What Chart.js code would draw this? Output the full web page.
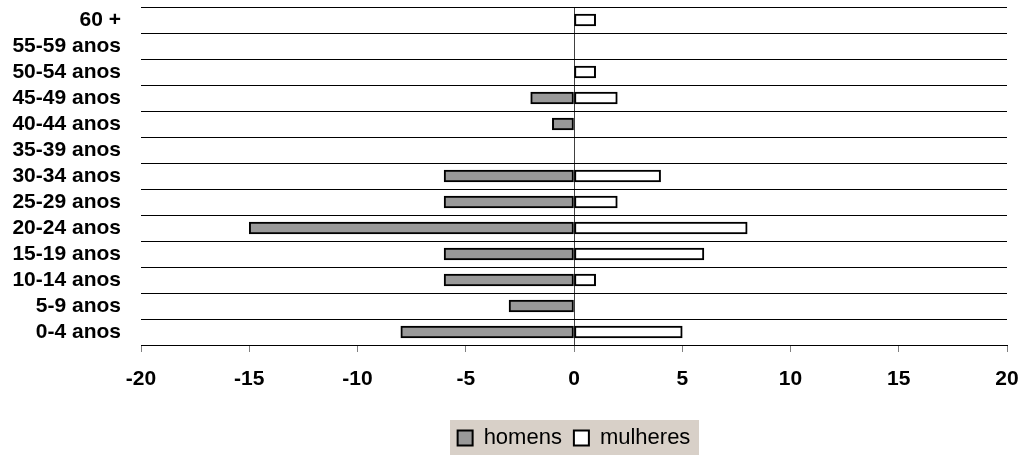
<!DOCTYPE html>
<html>
<head>
<meta charset="utf-8">
<script src="https://cdn.jsdelivr.net/npm/chart.js@4"></script>
<style>
  html, body { margin: 0; padding: 0; background: #fff; }
  #wrap { width: 1023px; height: 455px; }
</style>
</head>
<body>
<div id="wrap"><canvas id="chart"></canvas></div>
<script>
const categories = ['60 +', '55-59 anos', '50-54 anos', '45-49 anos', '40-44 anos', '35-39 anos',
  '30-34 anos', '25-29 anos', '20-24 anos', '15-19 anos', '10-14 anos', '5-9 anos', '0-4 anos'];
const homens = [0, 0, 0, -2, -1, 0, -6, -6, -15, -6, -6, -3, -8];
const mulheres = [1, 0, 1, 2, 0, 0, 4, 2, 8, 6, 1, 0, 5];
const xMin = -20, xMax = 20, xStep = 5;

const FONT = '"Liberation Sans", Arial, sans-serif';

// grey box behind the legend, like the excel one
const legendBg = {
  id: 'legendBg',
  beforeDraw(chart) {
    const lg = chart.legend;
    if (!lg || !lg.legendItems) return;
    const o = lg.options.labels;
    const ctx = chart.ctx;
    const size = o.font.size;
    ctx.save();
    ctx.font = size + 'px ' + FONT;
    let total = 0;
    lg.legendItems.forEach((it, i) => {
      total += o.boxWidth + size / 2 + ctx.measureText(it.text).width;
      if (i > 0) total += o.padding;
    });
    const cx = lg.left + lg.width / 2;
    const cy = lg.top + o.padding + Math.max(size, o.boxHeight) / 2;
    ctx.fillStyle = '#d8d0c8';
    ctx.fillRect(Math.round(cx - total / 2 - 8), Math.round(cy - 18), Math.round(total + 16), chart.height);
    ctx.restore();
  }
};

new Chart(document.getElementById('chart'), {
  type: 'bar',
  data: {
    labels: categories,
    datasets: [
      {
        label: 'homens',
        data: homens,
        backgroundColor: '#999999',
        borderColor: '#000000',
        borderWidth: 2,
        borderSkipped: false,
        barThickness: 12
      },
      {
        label: 'mulheres',
        data: mulheres,
        backgroundColor: '#ffffff',
        borderColor: '#000000',
        borderWidth: 2,
        borderSkipped: false,
        barThickness: 12
      }
    ]
  },
  options: {
    indexAxis: 'y',
    responsive: true,
    maintainAspectRatio: false,
    animation: false,
    layout: { padding: { top: 7, right: 16, left: 0, bottom: -4 } },
    scales: {
      x: {
        stacked: true,
        min: xMin,
        max: xMax,
        afterFit: (s) => { s.height = 70; s.paddingLeft = 0; s.paddingRight = 0; },
        ticks: {
          stepSize: xStep,
          autoSkip: false,
          maxRotation: 0,
          padding: 15,
          color: '#000',
          font: { family: FONT, size: 21, weight: 'bold' }
        },
        grid: {
          color: (c) => (c.tick && c.tick.value === 0 ? '#404040' : 'rgba(0,0,0,0)'),
          tickColor: '#808080',
          tickLength: 7,
          lineWidth: 1
        },
        border: { display: true, color: '#000', width: 1 }
      },
      y: {
        stacked: true,
        offset: true,
        afterFit: (s) => { s.width = 141; s.paddingTop = 0; s.paddingBottom = 0; },
        ticks: {
          autoSkip: false,
          padding: 20,
          color: '#000',
          font: { family: FONT, size: 21, weight: 'bold' }
        },
        grid: {
          offset: true,
          color: '#000',
          lineWidth: 1,
          drawTicks: false
        },
        border: { display: false }
      }
    },
    plugins: {
      tooltip: { enabled: false },
      legend: {
        position: 'bottom',
        fullSize: false,
        labels: {
          color: '#000',
          boxWidth: 15,
          boxHeight: 15,
          padding: 12,
          font: { family: FONT, size: 22 }
        }
      }
    }
  },
  plugins: [legendBg]
});
</script>
</body>
</html>
